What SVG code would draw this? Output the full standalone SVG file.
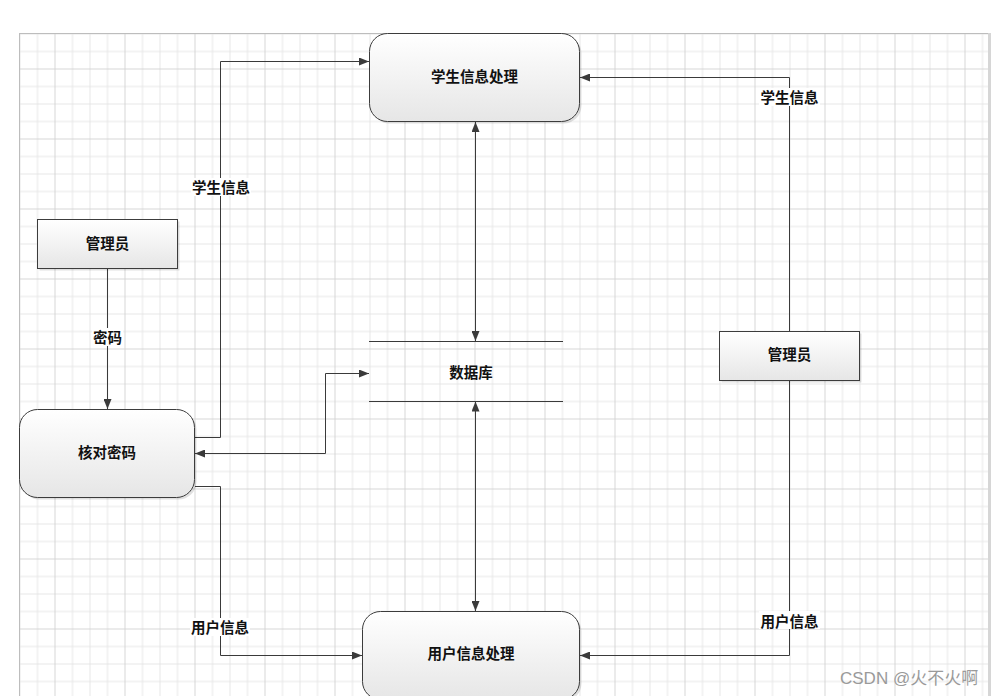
<svg xmlns="http://www.w3.org/2000/svg" width="992" height="696" viewBox="0 0 992 696">
<style>
.node{stroke:#3c3c3c;stroke-width:1;fill:url(#ng)}
.shadow{fill:#000;opacity:0.12}
.t{font-family:"Noto Sans CJK SC","Liberation Serif",serif;font-size:14.5px;font-weight:bold;fill:#111;text-anchor:middle;dominant-baseline:central}
.conn{fill:none;stroke:#3a3a3a;stroke-width:1}
.lbg{fill:#ffffff}
.wm{font-family:"Liberation Sans","Noto Sans CJK SC",sans-serif;font-size:17px;fill:#9a9a9a}
</style>
<defs>
<pattern id="grid" x="19.5" y="33.5" width="70" height="70" patternUnits="userSpaceOnUse">
<path d="M0.5,0V70M18,0V70M53,0V70M0,0.5H70M0,18H70M0,53H70" stroke="#e6e6e6" stroke-width="1" fill="none"/>
<path d="M35.5,0V70M0,35.5H70" stroke="#d6d6d6" stroke-width="1" fill="none"/>
</pattern>
<linearGradient id="ng" x1="0" y1="0" x2="0" y2="1">
<stop offset="0" stop-color="#ffffff"/>
<stop offset="1" stop-color="#e6e6e6"/>
</linearGradient>
<marker id="ah" markerWidth="10" markerHeight="8" refX="10" refY="4" orient="auto-start-reverse" markerUnits="userSpaceOnUse">
<path d="M0,0 L10,4 L0,8 z" fill="#3a3a3a"/>
</marker>
</defs>
<rect x="0" y="0" width="992" height="696" fill="#ffffff"/>
<rect x="19.5" y="33.5" width="969" height="670" fill="url(#grid)"/>
<rect x="19.5" y="33.5" width="969" height="670" fill="none" stroke="#bdbdbd" stroke-width="1"/>
<rect x="988" y="33" width="3" height="663" fill="#d6d6d6"/>

<g id="connectors">
<path class="conn" d="M195,437.5H220.5V61.5H369" marker-end="url(#ah)"/>
<path class="conn" d="M195,486.5H220.5V655.5H362" marker-end="url(#ah)"/>
<path class="conn" d="M107.5,268.5V409" marker-end="url(#ah)"/>
<path class="conn" d="M369,373.5H325.5V453.5H195" marker-start="url(#ah)" marker-end="url(#ah)"/>
<path class="conn" d="M475.5,122V341" marker-start="url(#ah)" marker-end="url(#ah)"/>
<path class="conn" d="M475.5,401.5V611" marker-start="url(#ah)" marker-end="url(#ah)"/>
<path class="conn" d="M789.5,331V77.5H580" marker-end="url(#ah)"/>
<path class="conn" d="M789.5,380.5V655.5H580" marker-end="url(#ah)"/>
<rect class="lbg" x="191" y="178" width="60" height="18"/>
<text class="t" x="221" y="186">学生信息</text>
<rect class="lbg" x="190" y="618" width="60" height="18"/>
<text class="t" x="220" y="626">用户信息</text>
<rect class="lbg" x="92" y="328" width="31" height="18"/>
<text class="t" x="107.5" y="336">密码</text>
<rect class="lbg" x="759" y="88" width="61" height="18"/>
<text class="t" x="789.5" y="96.5">学生信息</text>
<rect class="lbg" x="759" y="611" width="61" height="18"/>
<text class="t" x="789.5" y="620">用户信息</text>
</g>

<g id="student">
<rect class="shadow" x="371.5" y="35.5" width="210" height="88" rx="18"/>
<rect class="node" x="369.5" y="33.5" width="210" height="88" rx="18"/>
<text class="t" x="474.5" y="75">学生信息处理</text>
</g>
<g id="admin-left">
<rect class="shadow" x="39.5" y="221.5" width="140" height="49"/>
<rect class="node" x="37.5" y="219.5" width="140" height="49"/>
<text class="t" x="107.5" y="242">管理员</text>
</g>
<g id="verify">
<rect class="shadow" x="21.5" y="411.5" width="175" height="88" rx="18"/>
<rect class="node" x="19.5" y="409.5" width="175" height="88" rx="18"/>
<text class="t" x="107" y="451">核对密码</text>
</g>
<g id="database">
<line x1="369" y1="341.5" x2="563" y2="341.5" stroke="#3a3a3a" stroke-width="1"/>
<line x1="369" y1="401.5" x2="563" y2="401.5" stroke="#3a3a3a" stroke-width="1"/>
<text class="t" x="471" y="371">数据库</text>
</g>
<g id="admin-right">
<rect class="shadow" x="721.5" y="333.5" width="140" height="49"/>
<rect class="node" x="719.5" y="331.5" width="140" height="49"/>
<text class="t" x="789.5" y="353.5">管理员</text>
</g>
<g id="user">
<rect class="shadow" x="364.5" y="613.5" width="217" height="88" rx="18"/>
<rect class="node" x="362.5" y="611.5" width="217" height="88" rx="18"/>
<text class="t" x="471" y="652.5">用户信息处理</text>
</g>
<text class="wm" x="840" y="684">CSDN @火不火啊</text>
</svg>
